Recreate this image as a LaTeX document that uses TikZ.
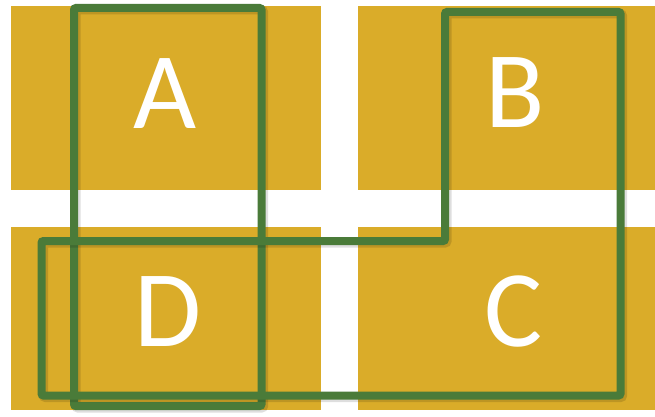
\documentclass[tikz,border=0pt]{standalone}
\usepackage{fontspec}
\setmainfont{Carlito}
\definecolor{gold}{HTML}{DAAC29}
\definecolor{leaf}{HTML}{4A7B39}
\tikzset{
  cell/.style={fill=gold,draw=none},
  letter/.style={text=white,inner sep=0pt,font=\fontsize{109}{109}\selectfont},
  outline/.style={draw=leaf,line width=8pt,rounded corners=2pt},
  shade/.style={draw=black,opacity=0.13,line width=9pt,rounded corners=2pt}
}
\begin{document}
\begin{tikzpicture}[x=1pt,y=-1pt]
    \useasboundingbox (0,0) rectangle (655,417);
    
    % four gold cells
    \fill[cell] (11,6) rectangle (321,190);
    \fill[cell] (358,6) rectangle (655,190);
    \fill[cell] (11,227) rectangle (321,410);
    \fill[cell] (358,227) rectangle (655,410);
    \node[letter] (a) at (165.5,94) {A};
    \node[letter] (b) at (515,93) {B};
    \node[letter] (d) at (168.5,311.5) {D};
    \node[letter] (c) at (513.5,312) {C};
    
    % green outlines
    \begin{scope}[shift={(2,2)}]
      \draw[shade] (74,8) rectangle (261.5,406);
    \end{scope}
    \draw[outline] (74,8) rectangle (261.5,406);
    \begin{scope}[shift={(2,2)}]
      \draw[shade] (41.5,241)--(445,241)--(445,12)--(620.5,12)--(620.5,395.5)--(41.5,395.5)--cycle;
    \end{scope}
    \draw[outline] (41.5,241)--(445,241)--(445,12)--(620.5,12)--(620.5,395.5)--(41.5,395.5)--cycle;
\end{tikzpicture}
\end{document}
